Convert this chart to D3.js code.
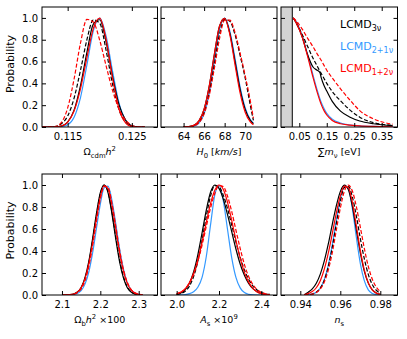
<!DOCTYPE html>
<html><head><meta charset="utf-8">
<script src="https://cdn.jsdelivr.net/npm/d3@7"></script>
<style>body{margin:0;background:#fff}svg{display:block;font-family:"DejaVu Sans",sans-serif}</style>
</head><body><svg id="c" width="407" height="339"></svg>
<script>
// ---------- DATA ----------
const yTicks = [0, 0.2, 0.4, 0.6, 0.8, 1.0];
const yTickLabels = ["0.0","0.2","0.4","0.6","0.8","1.0"];

// Panel 1: Omega_cdm h^2
const omcTicks = [0.115, 0.125];
const omcTickLabels = ["0.115","0.125"];
const omcX      = [0.111,0.112,0.113,0.114,0.115,0.116,0.117,0.118,0.119,0.120,0.121,0.122,0.123,0.124,0.125,0.126,0.127];
const omcBlack  = [0,0,0.001,0.008,0.045,0.155,0.38,0.685,0.943,0.983,0.777,0.463,0.205,0.065,0.01,0,0];
const omcBlackD = [0,0,0.004,0.03,0.1,0.265,0.52,0.80,0.982,0.95,0.70,0.39,0.16,0.045,0.006,0,0];
const omcBlue   = [0,0,0,0.003,0.02,0.09,0.27,0.57,0.882,0.998,0.83,0.51,0.22,0.066,0.01,0,0];
const omcRed    = [0,0,0,0.008,0.045,0.147,0.35,0.637,0.904,0.998,0.80,0.446,0.165,0.04,0.004,0,0];
const omcRedD   = [0,0,0.003,0.04,0.175,0.44,0.77,0.986,0.962,0.794,0.558,0.334,0.165,0.065,0.015,0,0];

// Panel 2: H0
const h0Ticks = [64, 66, 68, 70];
const h0TickLabels = ["64","66","68","70"];
const h0X      = [64,64.5,65,65.5,66,66.5,67,67.5,68,68.5,69,69.5,70,70.5,70.8];
const h0Black  = [0.0005,0.003,0.015,0.056,0.164,0.375,0.667,0.923,0.996,0.862,0.606,0.347,0.161,0.061,0.03];
const h0BlackD = [0.0005,0.003,0.013,0.046,0.135,0.315,0.576,0.85,0.985,0.97,0.85,0.66,0.45,0.2,0.06];
const h0Blue   = [0,0.001,0.008,0.036,0.122,0.31,0.607,0.895,0.999,0.882,0.636,0.37,0.177,0.068,0.035];
const h0Red    = [0.0005,0.003,0.015,0.056,0.164,0.375,0.667,0.923,0.995,0.85,0.577,0.314,0.135,0.046,0.02];
const h0RedD   = [0.0003,0.002,0.01,0.04,0.12,0.29,0.54,0.81,0.98,0.98,0.87,0.68,0.47,0.24,0.08];

// Panel 3: sum m_nu
const mnuTicks = [0.05, 0.15, 0.25, 0.35];
const mnuTickLabels = ["0.05","0.15","0.25","0.35"];
const mnuExcluded = 0.0245;
const mnuX      = [0.028,0.04,0.06,0.08,0.10,0.115,0.125,0.13,0.14,0.15,0.17,0.20,0.235,0.27,0.32,0.39];
const mnuBlack  = [1.0,0.95,0.83,0.665,0.55,0.52,0.5,0.45,0.38,0.33,0.235,0.145,0.09,0.055,0.03,0.012];
const mnuBlackD = [1.0,0.95,0.85,0.74,0.63,0.56,0.51,0.49,0.445,0.40,0.325,0.24,0.155,0.09,0.04,0.015];
const mnuBlue   = [1.0,0.96,0.84,0.665,0.475,0.34,0.26,0.225,0.17,0.125,0.072,0.036,0.018,0.011,0.006,0.003];
const mnuRed    = [1.0,0.95,0.83,0.65,0.455,0.32,0.24,0.205,0.15,0.11,0.06,0.03,0.018,0.01,0.005,0.002];
const mnuRedD   = [1.0,0.97,0.9,0.815,0.735,0.67,0.63,0.61,0.565,0.52,0.45,0.35,0.245,0.15,0.075,0.025];

// Panel 4: Omega_b h^2 x100
const obTicks = [2.1, 2.2, 2.3];
const obTickLabels = ["2.1","2.2","2.3"];
const obX      = [2.10,2.11,2.12,2.13,2.14,2.15,2.16,2.17,2.18,2.19,2.20,2.21,2.22,2.23,2.24,2.25,2.26,2.27,2.28,2.29,2.30,2.31];
const obBlack  = [0.0001,0.0006,0.0025,0.0088,0.027,0.069,0.158,0.306,0.515,0.744,0.93,1.0,0.93,0.744,0.515,0.306,0.158,0.069,0.027,0.0088,0.0025,0.0006];
const obBlackD = [0.0001,0.0005,0.002,0.0075,0.024,0.062,0.146,0.29,0.495,0.727,0.92,0.998,0.94,0.76,0.535,0.325,0.17,0.076,0.03,0.01,0.003,0.0008];
const obBlue   = [0,0.0002,0.0011,0.0042,0.014,0.04,0.099,0.209,0.385,0.607,0.826,0.974,0.989,0.865,0.654,0.424,0.24,0.115,0.048,0.017,0.0054,0.0014];
const obRed    = [0.0002,0.0007,0.0027,0.009,0.026,0.066,0.146,0.282,0.475,0.696,0.89,0.994,0.967,0.82,0.607,0.39,0.22,0.108,0.046,0.017,0.0056,0.0016];
const obRedD   = [0.0001,0.0005,0.002,0.007,0.021,0.056,0.128,0.258,0.447,0.67,0.872,0.988,0.978,0.84,0.632,0.412,0.236,0.118,0.052,0.02,0.007,0.002];

// Panel 5: A_s x10^9
const asTicks = [2.0, 2.2, 2.4];
const asTickLabels = ["2.0","2.2","2.4"];
const asX      = [2.00,2.02,2.04,2.06,2.08,2.10,2.12,2.14,2.16,2.18,2.20,2.22,2.24,2.26,2.28,2.30,2.32,2.34,2.36,2.38,2.40,2.42,2.44];
const asBlack  = [0.0064,0.0186,0.047,0.106,0.209,0.365,0.564,0.772,0.934,1.0,0.969,0.874,0.733,0.576,0.418,0.282,0.18,0.106,0.058,0.03,0.014,0.006,0.002];
const asBlackD = [0.004,0.0125,0.033,0.08,0.167,0.306,0.499,0.714,0.899,0.994,0.984,0.908,0.788,0.637,0.481,0.344,0.228,0.143,0.083,0.045,0.023,0.011,0.005];
const asBlue   = [0,0.001,0.004,0.012,0.03,0.07,0.16,0.35,0.637,0.908,0.997,0.86,0.6,0.34,0.16,0.065,0.022,0.006,0.001,0,0,0,0];
const asRed    = [0.011,0.026,0.056,0.11,0.195,0.32,0.481,0.661,0.83,0.952,1.0,0.961,0.845,0.679,0.499,0.335,0.206,0.117,0.06,0.028,0.012,0.005,0.002];
const asRedD   = [0.012,0.027,0.056,0.108,0.187,0.305,0.453,0.624,0.79,0.923,0.994,0.985,0.9,0.76,0.589,0.424,0.278,0.168,0.095,0.049,0.023,0.01,0.004];

// Panel 6: n_s
const nsTicks = [0.94, 0.96, 0.98];
const nsTickLabels = ["0.94","0.96","0.98"];
const nsX      = [0.942,0.944,0.946,0.948,0.950,0.952,0.954,0.956,0.958,0.960,0.962,0.964,0.966,0.968,0.970,0.972,0.974,0.976,0.978,0.980];
const nsBlack  = [0.003,0.026,0.055,0.106,0.19,0.31,0.464,0.643,0.81,0.94,0.998,0.959,0.81,0.595,0.386,0.217,0.108,0.047,0.018,0.006];
const nsBlackD = [0.0008,0.0028,0.009,0.025,0.062,0.135,0.26,0.435,0.649,0.85,0.977,0.99,0.895,0.72,0.515,0.33,0.187,0.095,0.043,0.017];
const nsBlue   = [0.0007,0.0027,0.009,0.025,0.063,0.14,0.27,0.457,0.673,0.87,0.987,0.97,0.79,0.527,0.288,0.13,0.047,0.014,0.0035,0.0006];
const nsRed    = [0.0048,0.013,0.031,0.066,0.13,0.235,0.381,0.558,0.744,0.9,0.99,0.978,0.845,0.63,0.408,0.228,0.112,0.047,0.017,0.005];
const nsRedD   = [0.0008,0.0026,0.008,0.022,0.055,0.118,0.227,0.386,0.588,0.788,0.942,1.0,0.947,0.805,0.618,0.424,0.26,0.144,0.071,0.032];

const legendNames = [["LCMD","3ν"],["LCMD","2+1ν"],["LCMD","1+2ν"]];

// ---------- LAYOUT / STYLE ----------
const COLORS = {black:"#000000", blue:"#3399ff", red:"#ff0000"};
const colX = [[42,157.5],[161,277],[281,397.5]];
const rowY = [[7,127],[174,295]];

const panels = [
  {c:0,r:0, dom:[0.111,0.129], ticks:omcTicks, labels:omcTickLabels, x:omcX,
   s:{bs:omcBlack,bd:omcBlackD,bl:omcBlue,rs:omcRed,rd:omcRedD},
   xlabel:[["Ω",""],["cdm","sub"],["h","i"],["2","sup"]]},
  {c:1,r:0, dom:[61.8,73.1], ticks:h0Ticks, labels:h0TickLabels, x:h0X,
   s:{bs:h0Black,bd:h0BlackD,bl:h0Blue,rs:h0Red,rd:h0RedD},
   xlabel:[["H","i"],["0","sub"],[" [",""],["km/s","i"],["]",""]]},
  {c:2,r:0, dom:[-0.0166,0.4075], ticks:mnuTicks, labels:mnuTickLabels, x:mnuX,
   s:{bs:mnuBlack,bd:mnuBlackD,bl:mnuBlue,rs:mnuRed,rd:mnuRedD},
   xlabel:[["∑",""],["m","i"],["ν","sub"],[" [eV]",""]], shade:mnuExcluded, legend:true},
  {c:0,r:1, dom:[2.048,2.349], ticks:obTicks, labels:obTickLabels, x:obX,
   s:{bs:obBlack,bd:obBlackD,bl:obBlue,rs:obRed,rd:obRedD},
   xlabel:[["Ω",""],["b","sub"],["h","i"],["2","sup"],[" ×100",""]]},
  {c:1,r:1, dom:[1.926,2.474], ticks:asTicks, labels:asTickLabels, x:asX,
   s:{bs:asBlack,bd:asBlackD,bl:asBlue,rs:asRed,rd:asRedD},
   xlabel:[["A","i"],["s","sub"],[" ×10",""],["9","sup"]]},
  {c:2,r:1, dom:[0.93035,0.9886], ticks:nsTicks, labels:nsTickLabels, x:nsX,
   s:{bs:nsBlack,bd:nsBlackD,bl:nsBlue,rs:nsRed,rd:nsRedD},
   xlabel:[["n","i"],["s","sub"]]}
];

const svg = d3.select("#c");
const TL = 4; // tick length

function rich(g, parts, size, x, y){
  const t = g.append("text").attr("x",x).attr("y",y).attr("font-size",size).attr("text-anchor","middle").attr("fill","#000");
  let shift = 0;
  parts.forEach(([s,st])=>{
    const ts = t.append("tspan").text(s);
    let target = 0;
    if(st==="sub"){target = size*0.3; ts.attr("font-size", size*0.72);}
    if(st==="sup"){target = -size*0.42; ts.attr("font-size", size*0.72);}
    if(st==="i") ts.attr("font-style","italic");
    if(target-shift!==0) ts.attr("dy", target-shift);
    shift = target;
  });
  return t;
}

panels.forEach((p,i)=>{
  const [x0,x1] = colX[p.c], [y0,y1] = rowY[p.r];
  const xs = d3.scaleLinear().domain(p.dom).range([x0,x1]);
  const ys = d3.scaleLinear().domain([0,1.1]).range([y1,y0]);
  const g = svg.append("g");
  const clipId = "clip"+i;
  svg.append("clipPath").attr("id",clipId).append("rect").attr("x",x0).attr("y",y0).attr("width",x1-x0).attr("height",y1-y0);

  if(p.shade!==undefined){
    g.append("rect").attr("x",x0).attr("y",y0).attr("width",xs(p.shade)-x0).attr("height",y1-y0).attr("fill","#d3d3d3");
    g.append("line").attr("x1",xs(p.shade)).attr("x2",xs(p.shade)).attr("y1",y0).attr("y2",y1).attr("stroke","#000").attr("stroke-width",1);
  }

  const line = d3.line().x((d,j)=>xs(p.x[j])).y(d=>ys(d)).curve(d3.curveMonotoneX);
  const cg = g.append("g").attr("clip-path",`url(#${clipId})`).attr("fill","none").attr("stroke-width",1.2);
  cg.append("path").attr("d",line(p.s.bl)).attr("stroke",COLORS.blue);
  cg.append("path").attr("d",line(p.s.bs)).attr("stroke",COLORS.black);
  cg.append("path").attr("d",line(p.s.bd)).attr("stroke",COLORS.black).attr("stroke-dasharray","4,2");
  cg.append("path").attr("d",line(p.s.rs)).attr("stroke",COLORS.red);
  cg.append("path").attr("d",line(p.s.rd)).attr("stroke",COLORS.red).attr("stroke-dasharray","4,2");

  const axB = d3.axisBottom(xs).tickValues(p.ticks).tickSizeInner(-TL).tickSizeOuter(0).tickPadding(6).tickFormat((d,j)=>p.labels[j]);
  const axT = d3.axisTop(xs).tickValues(p.ticks).tickSizeInner(-TL).tickSizeOuter(0).tickFormat("");
  const axL = d3.axisLeft(ys).tickValues(yTicks).tickSizeInner(-TL).tickSizeOuter(0).tickPadding(4).tickFormat((d,j)=> p.c===0 ? yTickLabels[j] : "");
  const axR = d3.axisRight(ys).tickValues(yTicks).tickSizeInner(-TL).tickSizeOuter(0).tickFormat("");
  const gb = g.append("g").attr("transform",`translate(0,${y1})`).call(axB);
  const gt = g.append("g").attr("transform",`translate(0,${y0})`).call(axT);
  const gl = g.append("g").attr("transform",`translate(${x0},0)`).call(axL);
  const gr = g.append("g").attr("transform",`translate(${x1},0)`).call(axR);
  [gb,gt,gl,gr].forEach(a=>{a.select(".domain").remove(); a.selectAll("line").attr("stroke","#000");
    a.selectAll("text").attr("font-size",10).attr("font-family","DejaVu Sans").attr("fill","#000");});

  g.append("rect").attr("x",x0).attr("y",y0).attr("width",x1-x0).attr("height",y1-y0)
    .attr("fill","none").attr("stroke","#000").attr("stroke-width",1);

  rich(g, p.xlabel, 9.5, (x0+x1)/2, y1+28);

  if(p.legend){
    const cols = [COLORS.black, COLORS.blue, COLORS.red];
    legendNames.forEach((n,k)=>{
      const t = g.append("text").attr("x",340).attr("y",28+k*21.8).attr("font-size",11).attr("fill",cols[k]);
      t.append("tspan").text(n[0]);
      t.append("tspan").text(n[1]).attr("font-size",8).attr("dy",3);
    });
  }
});

[ (rowY[0][0]+rowY[0][1])/2 - 3, (rowY[1][0]+rowY[1][1])/2 - 4 ].forEach(cy=>{
  svg.append("text").attr("transform",`translate(14,${cy}) rotate(-90)`).attr("text-anchor","middle")
    .attr("font-size",11).attr("fill","#000").text("Probability");
});
</script></body></html>
